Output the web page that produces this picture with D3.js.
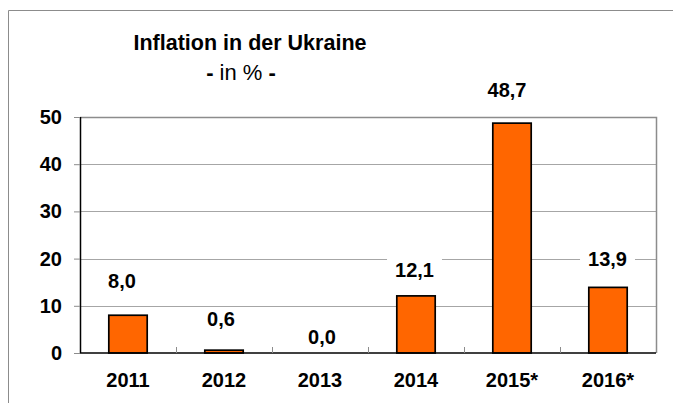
<!DOCTYPE html>
<html lang="de">
  <head>
    <meta charset="UTF-8" />
    <title>Inflation in der Ukraine</title>
    <script src="https://d3js.org/d3.v7.min.js"></script>
    <style>
      body {
        margin: 0;
        background-color: #ffffff;
        font-family: "Liberation Sans", Arial, sans-serif;
      }
    </style>
  </head>
  <body>
    <div id="chart"></div>
    <script>
      // data
      var years = ["2011", "2012", "2013", "2014", "2015*", "2016*"];
      var inflation = [8.0, 0.6, 0.0, 12.1, 48.7, 13.9];
      var yTicks = [0, 10, 20, 30, 40, 50];

      // label placement (px above bar top, px shift from band centre)
      var labelLift = [27, 24, 9, 19, 26, 21];
      var labelShift = [-6, -3, 2, -1.5, -5, -0.5];

      var W = 673, H = 403;
      var margin = { top: 117, right: 17, bottom: 50, left: 80 },
        width = W - margin.left - margin.right,
        height = H - margin.top - margin.bottom;

      var svg = d3
        .select("#chart")
        .append("svg")
        .attr("width", W)
        .attr("height", H);

      // outer frame
      svg.append("path")
        .attr("d", "M8.5," + H + "V10.5H" + W)
        .attr("fill", "none")
        .attr("stroke", "#8c8c8c")
        .attr("stroke-width", 1);

      // title
      svg.append("text")
        .attr("x", 250)
        .attr("y", 50)
        .attr("text-anchor", "middle")
        .style("font-size", "21.5px")
        .style("font-weight", "bold")
        .text("Inflation in der Ukraine");

      var sub = svg.append("text")
        .attr("x", 241)
        .attr("y", 80)
        .attr("text-anchor", "middle")
        .style("font-size", "22px");
      sub.append("tspan").style("font-weight", "bold").text("- ");
      sub.append("tspan").text("in % ");
      sub.append("tspan").style("font-weight", "bold").text("-");

      var g = svg.append("g")
        .attr("transform", "translate(" + margin.left + "," + margin.top + ")");

      var x = d3.scaleBand().domain(years).range([0, width]).paddingInner(0.6).paddingOuter(0.3);
      var xBand = d3.scaleBand().domain(years).range([0, width]);
      var y = d3.scaleLinear().domain([0, 50]).range([height, 0]);

      // gridlines
      g.append("g")
        .selectAll("line")
        .data(yTicks.slice(1, -1))
        .enter()
        .append("line")
        .attr("x1", 0)
        .attr("x2", width)
        .attr("y1", function (d) { return Math.round(y(d)) + 0.5; })
        .attr("y2", function (d) { return Math.round(y(d)) + 0.5; })
        .attr("stroke", "#a6a6a6")
        .attr("stroke-width", 1);

      // plot frame top / right
      g.append("path")
        .attr("d", "M0," + (Math.round(y(50)) + 0.5) + "H" + (width + 0.5) + "V" + height)
        .attr("fill", "none")
        .attr("stroke", "#8c8c8c")
        .attr("stroke-width", 1.5);

      // bars
      g.selectAll(".bar")
        .data(inflation)
        .enter()
        .append("rect")
        .attr("class", "bar")
        .attr("x", function (d, i) { return x(years[i]); })
        .attr("width", x.bandwidth())
        .attr("y", function (d) { return y(d); })
        .attr("height", function (d) { return height - y(d); })
        .attr("fill", "#ff6600")
        .attr("stroke", "#000000")
        .attr("stroke-width", 1.7);

      // value labels with white background
      var labels = g.append("g")
        .selectAll("g")
        .data(inflation)
        .enter()
        .append("g");

      labels.append("text")
        .attr("x", function (d, i) { return xBand(years[i]) + xBand.bandwidth() / 2 + labelShift[i]; })
        .attr("y", function (d, i) { return y(d) - labelLift[i]; })
        .attr("text-anchor", "middle")
        .style("font-size", "20px")
        .style("font-weight", "bold")
        .text(function (d) { return d.toFixed(1).replace(".", ","); });

      labels.each(function () {
        var t = d3.select(this).select("text");
        var b = t.node().getBBox();
        d3.select(this).insert("rect", "text")
          .attr("x", b.x - 8)
          .attr("y", b.y)
          .attr("width", b.width + 16)
          .attr("height", b.height)
          .attr("fill", "#ffffff");
      });

      // x axis
      var xAxis = g.append("g")
        .attr("transform", "translate(0," + height + ")");
      xAxis.append("line")
        .attr("x1", 0)
        .attr("x2", width)
        .attr("stroke", "#000")
        .attr("stroke-width", 1.5);
      xAxis.selectAll(".sep")
        .data(years.slice(1))
        .enter()
        .append("line")
        .attr("x1", function (d) { return xBand(d) + 0.5; })
        .attr("x2", function (d) { return xBand(d) + 0.5; })
        .attr("y1", 0)
        .attr("y2", -6)
        .attr("stroke", "#8c8c8c");
      xAxis.selectAll(".lbl")
        .data(years)
        .enter()
        .append("text")
        .attr("x", function (d) { return xBand(d) + xBand.bandwidth() / 2; })
        .attr("y", 34)
        .attr("text-anchor", "middle")
        .style("font-size", "20px")
        .style("font-weight", "bold")
        .text(function (d) { return d; });

      // y axis
      var yAxis = g.append("g")
        .call(d3.axisLeft(y).tickValues(yTicks).tickSize(6).tickPadding(12));
      yAxis.select(".domain")
        .attr("d", "M0.5," + height + "V" + y(50))
        .attr("stroke", "#000")
        .attr("stroke-width", 1.5);
      yAxis.selectAll(".tick line").attr("stroke", "#8c8c8c");
      yAxis.selectAll("text")
        .style("font-family", "'Liberation Sans', Arial, sans-serif")
        .style("font-size", "20px")
        .style("font-weight", "bold")
        .attr("fill", "#000");
    </script>
  </body>
</html>
